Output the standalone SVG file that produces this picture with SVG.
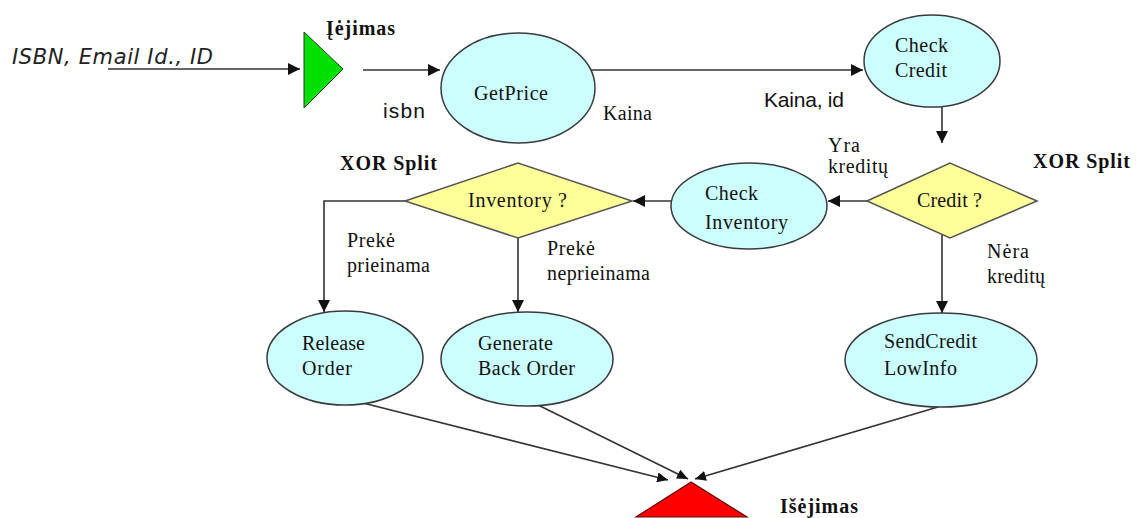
<svg xmlns="http://www.w3.org/2000/svg" width="1138" height="518" viewBox="0 0 1138 518">
<style>
.bg{fill:#ffffff}
.proc{fill:#ccffff;stroke:#3a3a3a;stroke-width:1.5}
.dec{fill:#ffff99;stroke:#555555;stroke-width:1.5}
.edge{fill:none;stroke:#333333;stroke-width:1.6}
.t{font-family:"Liberation Serif","Times New Roman",serif;font-size:20px;fill:#111111}
.b{font-family:"Liberation Serif","Times New Roman",serif;font-size:20px;font-weight:bold;fill:#111111}
.s{font-family:"Liberation Sans",Arial,sans-serif;font-size:21px;fill:#111111}
.i{font-family:"DejaVu Sans",Verdana,sans-serif;font-size:21px;font-style:italic;fill:#222222}
</style>
<defs>
<marker id="ah" markerUnits="userSpaceOnUse" markerWidth="12" markerHeight="12" refX="12" refY="6" orient="auto">
<path d="M0,0 L12,6 L0,12 z" fill="#111111"/>
</marker>
<marker id="as" markerUnits="userSpaceOnUse" markerWidth="11" markerHeight="10" refX="11" refY="5" orient="auto">
<path d="M0,0 L11,5 L0,10 z" fill="#111111"/>
</marker>
</defs>
<rect class="bg" x="0" y="0" width="1138" height="518"/>

<g id="connectors">
<path class="edge" d="M108,69 L300,69" marker-end="url(#ah)"/>
<path class="edge" d="M363,70 L440,70" marker-end="url(#ah)"/>
<path class="edge" d="M591,70 L863,70" marker-end="url(#ah)"/>
<path class="edge" d="M942,107 L942,143" marker-end="url(#ah)"/>
<path class="edge" d="M867,201 L828,201" marker-end="url(#ah)"/>
<path class="edge" d="M672,201 L633,201" marker-end="url(#ah)"/>
<path class="edge" d="M405,201 L324,201 L324,312" marker-end="url(#ah)"/>
<path class="edge" d="M518,238 L518,312" marker-end="url(#ah)"/>
<path class="edge" d="M942,234 L942,313" marker-end="url(#ah)"/>
<path class="edge" d="M363,403 L668,480" marker-end="url(#as)"/>
<path class="edge" d="M538,405 L688,479" marker-end="url(#as)"/>
<path class="edge" d="M938,407 L695,479" marker-end="url(#as)"/>
</g>

<g id="input-label">
<text class="i" x="12" y="64" textLength="201">ISBN, Email Id., ID</text>
</g>

<g id="start">
<polygon points="304,32 304,108 343,69" fill="#00e000" stroke="#2a3a2a" stroke-width="1"/>
<text class="b" x="326" y="35" textLength="69">Įėjimas</text>
</g>

<g id="label-isbn"><text class="s" x="383" y="118" textLength="42">isbn</text></g>

<g id="getprice">
<ellipse class="proc" cx="518" cy="88" rx="77" ry="55"/>
<text class="t" x="474" y="100" textLength="74">GetPrice</text>
</g>

<g id="label-kaina"><text class="t" x="603" y="120" textLength="49">Kaina</text></g>
<g id="label-kaina-id"><text class="s" x="764" y="107" textLength="80">Kaina, id</text></g>

<g id="checkcredit">
<ellipse class="proc" cx="932" cy="61" rx="68" ry="46"/>
<text class="t" x="895" y="52" textLength="53">Check</text>
<text class="t" x="895" y="77" textLength="52">Credit</text>
</g>

<g id="credit-decision">
<polygon class="dec" points="867,201 950,163 1037,201 950,238"/>
<text class="t" x="917" y="207" textLength="65">Credit ?</text>
<text class="b" x="1033" y="168" textLength="97">XOR Split</text>
</g>

<g id="label-yra">
<text class="t" x="828" y="152" textLength="32">Yra</text>
<text class="t" x="828" y="173" textLength="60">kreditų</text>
</g>

<g id="label-nera">
<text class="t" x="987" y="258" textLength="42">Nėra</text>
<text class="t" x="987" y="283" textLength="58">kreditų</text>
</g>

<g id="checkinventory">
<ellipse class="proc" cx="749" cy="206" rx="78" ry="43"/>
<text class="t" x="705" y="200" textLength="53">Check</text>
<text class="t" x="705" y="229" textLength="83">Inventory</text>
</g>

<g id="inventory-decision">
<polygon class="dec" points="405,201 518,163 632,201 518,238"/>
<text class="t" x="468" y="207" textLength="99">Inventory ?</text>
<text class="b" x="340" y="170" textLength="97">XOR Split</text>
</g>

<g id="label-prieinama">
<text class="t" x="347" y="247" textLength="48">Prekė</text>
<text class="t" x="347" y="272" textLength="83">prieinama</text>
</g>

<g id="label-neprieinama">
<text class="t" x="547" y="255" textLength="48">Prekė</text>
<text class="t" x="547" y="280" textLength="103">neprieinama</text>
</g>

<g id="releaseorder">
<ellipse class="proc" cx="345" cy="358" rx="78" ry="47"/>
<text class="t" x="302" y="350" textLength="63">Release</text>
<text class="t" x="302" y="375" textLength="50">Order</text>
</g>

<g id="generatebackorder">
<ellipse class="proc" cx="527" cy="359" rx="86" ry="47"/>
<text class="t" x="478" y="350" textLength="75">Generate</text>
<text class="t" x="478" y="375" textLength="97">Back Order</text>
</g>

<g id="sendcreditlowinfo">
<ellipse class="proc" cx="941" cy="360" rx="96" ry="47"/>
<text class="t" x="884" y="348" textLength="93">SendCredit</text>
<text class="t" x="884" y="375" textLength="73">LowInfo</text>
</g>

<g id="end">
<polygon points="691,482 636,517 747,517" fill="#ff0000" stroke="#660000" stroke-width="1.2"/>
<text class="b" x="780" y="513" textLength="78">Išėjimas</text>
</g>
</svg>
